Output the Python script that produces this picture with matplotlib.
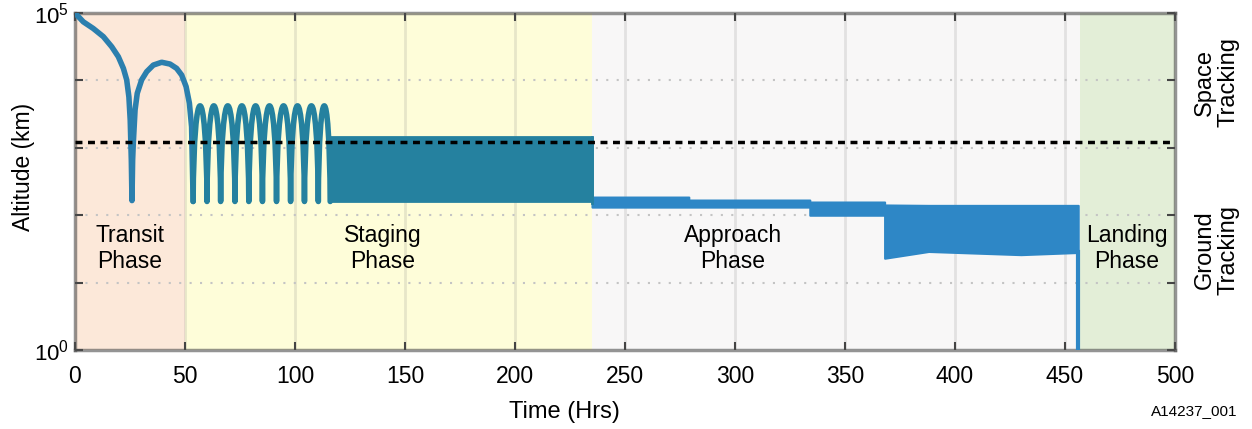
import matplotlib
matplotlib.use("Agg")
import matplotlib.pyplot as plt
from matplotlib.path import Path
from matplotlib.patches import PathPatch
import numpy as np

plt.rcParams['font.family'] = ['Liberation Sans', 'DejaVu Sans']
plt.rcParams['mathtext.fontset'] = 'custom'
plt.rcParams['mathtext.rm'] = 'Liberation Sans'

# --- data (time in hrs, altitude in km) ---
transit_time = [0, 3.8, 8.3, 12.9, 16.7, 19.7, 22, 23.5, 24.5, 25.1, 25.6, 25.9,
                26.2, 26.5, 27.3, 28.3, 30.3, 32.6, 35.6, 39.4, 43.2, 46.2, 48.5,
                50.5, 52, 53.0, 53.7]
transit_alt = [1.0e5, 7.4e4, 5.9e4, 4.46e4, 3.16e4, 2.25e4, 1.51e4, 1.02e4, 5.7e3, 2.57e3,
               660, 165, 660, 1170, 3640, 6450, 1.02e4, 1.35e4, 1.69e4, 1.86e4, 1.75e4,
               1.51e4, 1.2e4, 8.1e3, 4.6e3, 2.05e3, 160]

# staging: bounces between these trough times, then a dense band
staging_troughs = [53.7, 60.0, 66.2, 72.7, 79.0, 85.2, 91.6, 98.0, 104.3, 110.6, 116.0]
staging_peak = 4200
staging_low = 160
staging_band_t = [116, 235]
staging_band_lo = [165, 165]
staging_band_hi = [1450, 1450]

# approach: dense band (envelope)
approach_t = [235, 279, 279, 334, 334, 368, 368, 388, 430, 456]
approach_hi = [186, 186, 168, 168, 157, 157, 142, 140, 140, 140]
approach_lo = [132, 132, 132, 132, 100, 100, 23, 29, 26, 28]

# landing: final drop
landing_t = [456.0, 456.0]
landing_alt = [28, 1]

tracking_limit = 1200

phases = [(0, 50, '#fce8d9', 'Transit\nPhase', 25),
          (50, 235, '#fefdd9', 'Staging\nPhase', 140),
          (235, 457, '#f8f7f7', 'Approach\nPhase', 299),
          (457, 500, '#e3eed7', 'Landing\nPhase', 478)]

fig = plt.figure(figsize=(12.52, 4.29), dpi=100)
ax = fig.add_axes([0.0599, 0.1841, 0.8786, 0.7855])
ax.set_yscale('log')
ax.set_xlim(0, 500)
ax.set_ylim(1, 1e5)

# phase backgrounds + labels
for x0, x1, col, label, xc in phases:
    ax.axvspan(x0, x1, color=col, zorder=0, lw=0)
    ax.text(xc, 32, label, ha='center', va='center', fontsize=16.5, zorder=5,
            linespacing=1.15)

# grid
for xv in range(50, 500, 50):
    ax.axvline(xv, color=(0.5, 0.5, 0.5, 0.18), lw=2, zorder=1)
for yv in [10, 100, 1000, 10000]:
    ax.axhline(yv, color='#c4c4c4', lw=1.5, ls=(0, (1, 4)), zorder=1)

teal = '#25819f'
blue = '#2e87c6'

ax.plot(transit_time, transit_alt, color='#2b7fae', lw=4, zorder=3,
        solid_joinstyle='round', solid_capstyle='round')

# staging arcs as bezier humps (control height set in log space)
ctrl = 10 ** ((8 * np.log10(staging_peak) - 2 * np.log10(staging_low)) / 6)
verts = [(staging_troughs[0], staging_low)]
codes = [Path.MOVETO]
for a, b in zip(staging_troughs[:-1], staging_troughs[1:]):
    verts += [(a + 0.3, ctrl), (b - 0.3, ctrl), (b, staging_low)]
    codes += [Path.CURVE4] * 3
arc = PathPatch(Path(verts, codes), fill=False, edgecolor=teal, lw=4,
                transform=ax.transData, zorder=3, joinstyle='round', capstyle='round')
ax.add_patch(arc)

ax.fill_between(staging_band_t, staging_band_lo, staging_band_hi, color=teal, lw=2, zorder=3)
ax.fill_between(approach_t, approach_lo, approach_hi, color=blue, lw=1.5, edgecolor=blue, zorder=3)
ax.plot([235, 235], [150, 1450], color=teal, lw=2, zorder=3)
ax.plot(landing_t, landing_alt, color=blue, lw=3, zorder=3)

ax.axhline(tracking_limit, color='black', lw=2.5, ls=(0, (2, 1.6)), zorder=4)

# axes styling
ax.set_xticks(range(0, 501, 50))
ax.set_yticks([1, 10, 100, 1000, 10000, 100000])
ax.set_yticklabels([r'$\mathregular{10^0}$', '', '', '', '', r'$\mathregular{10^5}$'])
ax.minorticks_off()
ax.tick_params(direction='in', top=True, right=True, length=6, width=1.5,
               color='#444444', labelsize=16.5)
ax.tick_params(axis='x', pad=11)
ax.tick_params(axis='y', labelsize=16, pad=4)
for s in ax.spines.values():
    s.set_linewidth(2.5)
    s.set_edgecolor((0.3, 0.3, 0.3, 0.6))

ax.set_xlabel('Time (Hrs)', fontsize=17)
ax.xaxis.set_label_coords(0.445, -0.15)
ax.set_ylabel('Altitude (km)', fontsize=16.5)
ax.yaxis.set_label_coords(-0.036, 0.543)

ax.text(1.038, 0.795, 'Space\nTracking', transform=ax.transAxes, rotation=90,
        ha='center', va='center', fontsize=17, linespacing=1.1)
ax.text(1.038, 0.297, 'Ground\nTracking', transform=ax.transAxes, rotation=90,
        ha='center', va='center', fontsize=17, linespacing=1.1)
fig.text(1194 / 1252, 1 - 411 / 429, 'A14237_001', ha='center', va='center', fontsize=11)

fig.savefig('out.png', dpi=100)
